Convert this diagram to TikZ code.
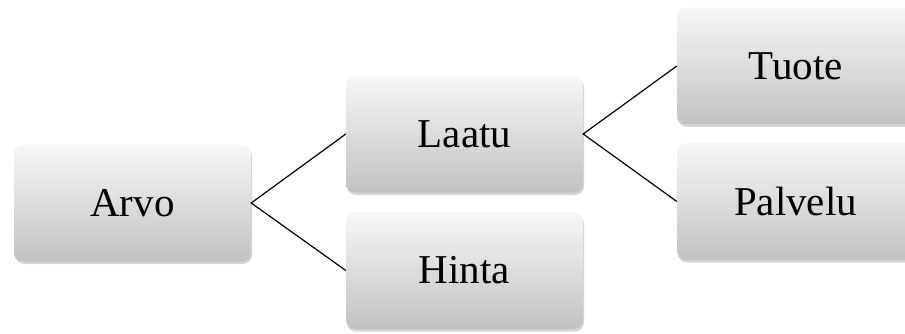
\documentclass[tikz,border=0pt]{standalone}
\usepackage{fontspec}
\setmainfont{Liberation Serif}
\usetikzlibrary{shadows}
\begin{document}
\begin{tikzpicture}[x=1pt,y=-1pt,
  box/.style={rounded corners=9pt, minimum width=237pt, minimum height=117pt,
    inner sep=0pt, top color=white!97!black, bottom color=white!76!black,
    drop shadow={shadow xshift=1pt, shadow yshift=-2.5pt, opacity=0.3, fill=black!55},
    font=\fontsize{41}{49}\selectfont},
  link/.style={draw=black, line width=1.2pt}]
\useasboundingbox (0,0) rectangle (905,334);
\clip (0,0) rectangle (905,334);
\node[box] (arvo) at (132.5,203) {Arvo};
\node[box] (laatu) at (464.5,134) {Laatu};
\node[box] (hinta) at (464.5,270.5) {Hinta};
\node[box] (tuote) at (795.5,66) {Tuote};
\node[box] (palvelu) at (795.5,201.5) {Palvelu};
\draw[link] (laatu.west) -- (arvo.east) -- (hinta.west);
\draw[link] (tuote.west) -- (laatu.east) -- (palvelu.west);
\end{tikzpicture}
\end{document}
